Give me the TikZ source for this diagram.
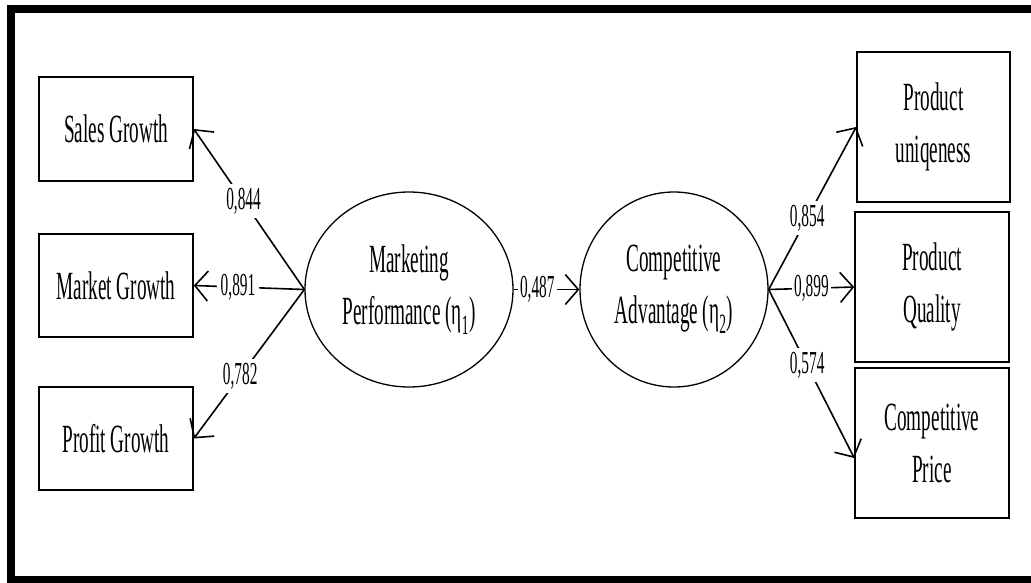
\documentclass[tikz,border=0pt]{standalone}
\usepackage{fontspec}
\setmainfont{Liberation Serif}[FakeStretch=0.48]
\usetikzlibrary{arrows.meta,shapes.geometric,calc}
\tikzset{
  obs/.style={draw, line width=1.6pt, minimum width=154pt, inner sep=0pt, align=center,
    font=\fontsize{40}{52}\selectfont},
  lat/.style={draw, ellipse, line width=1.3pt, inner sep=0pt, align=center,
    font=\fontsize{40}{52}\selectfont},
  conn/.style={line width=1.6pt, -{Straight Barb[length=13pt,width=30pt]}},
  lbl/.style={fill=white, inner sep=4pt, font=\fontsize{32}{32}\selectfont},
}
\begin{document}
\begin{tikzpicture}[x=1pt,y=-1pt]
\useasboundingbox (0,0) rectangle (1031,583);
\clip (0,0) rectangle (1031,583);
\draw[line width=8pt] (11,9.5) rectangle (1050,579.5);

\node[obs, minimum height=104pt] (sales) at (116,129) {Sales Growth};
\node[obs, minimum height=103pt] (market) at (116,285.5) {Market Growth};
\node[obs, minimum height=103pt] (profit) at (116,438.5) {Profit Growth};

\node[obs, minimum width=153pt, minimum height=150pt] (uniq) at (933.5,127) {Product\\uniqeness};
\node[obs, minimum height=150pt] (qual) at (932,287) {Product\\Quality};
\node[obs, minimum height=150pt] (price) at (932,443) {Competitive\\Price};

\node[lat, minimum width=208pt, minimum height=195pt] (mp) at (409,289.5) {Marketing\\Performance (η\textsubscript{1})};
\node[lat, minimum width=188pt, minimum height=195pt] (ca) at (674,289.5) {Competitive\\Advantage (η\textsubscript{2})};

\draw[conn] (mp.west) -- node[lbl, pos=0.55] {0,844} (sales.east);
\draw[conn] (mp.west) -- node[lbl, pos=0.6] {0,891} (market.east);
\draw[conn] (mp.west) -- node[lbl, pos=0.58] {0,782} (profit.east);
\draw[conn] (mp.east) -- node[lbl, pos=0.36, inner sep=2pt] {0,487} (ca.west);
\draw[conn] (ca.east) -- node[lbl, pos=0.44] {0,854} (uniq.west);
\draw[conn] (ca.east) -- node[lbl, pos=0.5, inner sep=2pt] {0,899} (qual.west);
\draw[conn] (ca.east) -- node[lbl, pos=0.45] {0,574} ([yshift=-15pt]price.west);
\end{tikzpicture}
\end{document}
